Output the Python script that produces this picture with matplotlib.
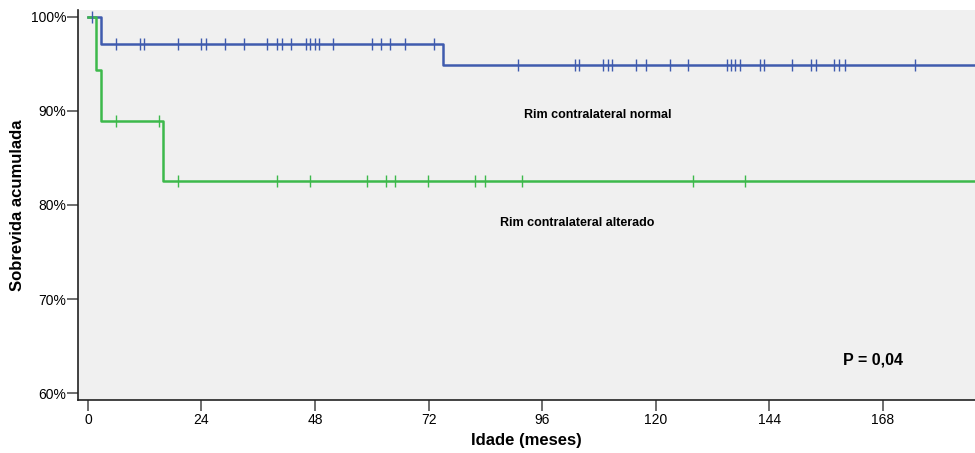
import matplotlib
matplotlib.use("Agg")
import matplotlib.pyplot as plt
from matplotlib.ticker import FuncFormatter

plt.rcParams["font.family"] = ["Liberation Sans", "DejaVu Sans"]

# Kaplan-Meier steps (months, cumulative survival %)
normal_times = [0.0, 2.8, 75.0, 187.5]
normal_surv = [100.0, 97.1, 94.9, 94.9]
normal_censor_t = [0.85, 5.9, 11.0, 11.8, 19.0, 23.9, 24.9, 29.0, 33.0, 37.8, 39.9,
                   41.0, 42.9, 46.1, 46.9, 48.0, 48.8, 51.8, 60.0, 61.9, 63.8, 67.0,
                   73.1, 90.9, 103.0, 103.8, 108.9, 109.9, 110.8, 115.9, 118.0, 123.0,
                   126.8, 135.1, 135.9, 136.8, 137.8, 142.1, 142.9, 148.8, 152.9,
                   153.9, 157.7, 158.8, 160.0, 174.8]

altered_times = [0.0, 1.7, 2.8, 15.9, 187.5]
altered_surv = [100.0, 94.4, 88.9, 82.5, 82.5]
altered_censor_t = [5.9, 15.0, 19.0, 39.9, 46.9, 59.0, 63.0, 64.9, 71.9, 81.8, 83.9,
                    91.8, 127.9, 138.9]

x_ticks = [0, 24, 48, 72, 96, 120, 144, 168]
y_ticks = [60, 70, 80, 90, 100]

blue = "#3F5BAE"
green = "#3DB94B"


def surv_at(times, surv, t):
    val = surv[0]
    for ti, si in zip(times, surv):
        if t >= ti:
            val = si
    return val


fig = plt.figure(figsize=(9.75, 4.53), dpi=100)
ax = fig.add_axes([0.08, 0.117, 0.92, 0.861])
ax.set_facecolor("#F0F0F0")

ax.step(normal_times, normal_surv, where="post", color=blue, lw=1.8)
ax.step(altered_times, altered_surv, where="post", color=green, lw=1.8)

ax.plot(normal_censor_t, [surv_at(normal_times, normal_surv, t) for t in normal_censor_t],
        ls="none", marker="|", ms=9, mew=1.0, color=blue)
ax.plot(altered_censor_t, [surv_at(altered_times, altered_surv, t) for t in altered_censor_t],
        ls="none", marker="|", ms=9, mew=1.0, color=green)

ax.set_xlim(-2.1, 187.5)
ax.set_ylim(59.26, 100.74)
ax.set_xticks(x_ticks)
ax.set_yticks(y_ticks)
ax.yaxis.set_major_formatter(FuncFormatter(lambda v, _: f"{v:.0f}%"))

for side in ("top", "right"):
    ax.spines[side].set_visible(False)
for side in ("left", "bottom"):
    ax.spines[side].set_color("#222222")
    ax.spines[side].set_linewidth(1.2)
ax.tick_params(axis="both", length=8, width=1.2, color="#555555", labelsize=10)
ax.tick_params(axis="y", pad=0.5)
ax.tick_params(axis="x", pad=1.5)

ax.set_xlabel("Idade (meses)", fontsize=12, fontweight="bold", labelpad=4)
ax.set_ylabel("Sobrevida acumulada", fontsize=12, fontweight="bold", labelpad=4)

ax.text(107.7, 89.6, "Rim contralateral normal", fontsize=9, fontweight="bold",
        ha="center", va="center")
ax.text(103.4, 78.1, "Rim contralateral alterado", fontsize=9, fontweight="bold",
        ha="center", va="center")
ax.text(166, 63.5, "P = 0,04", fontsize=11.5, fontweight="bold", ha="center", va="center")

fig.savefig("out.png", dpi=100)
